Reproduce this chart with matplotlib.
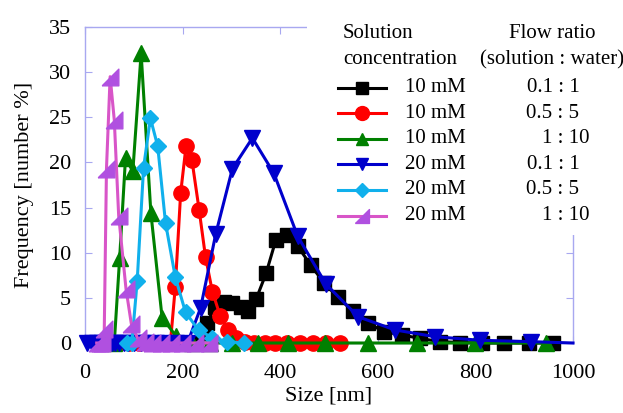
import matplotlib
matplotlib.use("Agg")
import matplotlib.pyplot as plt
from matplotlib.lines import Line2D
import numpy as np

plt.rcParams['font.family'] = ['Liberation Serif', 'DejaVu Serif']

# ---------------- data ----------------
black_x = [215, 228, 244, 250, 266, 284, 302, 320, 335, 351, 371, 391, 414, 436, 463, 489,
           518, 549, 580, 613, 649, 687, 728, 769, 814, 858, 910, 958]
black_y = [0, 0, 1.1, 2.2, 4.0, 4.5, 4.4, 4.0, 3.5, 4.9, 7.7, 11.4, 12.0, 10.7, 8.6, 6.7,
           5.1, 3.5, 2.2, 1.25, 0.9, 0.5, 0.15, 0.05, 0, 0, 0, 0]

red_x = [50, 70, 90, 110, 130, 150, 165, 175, 185, 196, 207, 219, 234, 247, 261, 277, 293,
         309, 327, 347, 368, 390, 414, 440, 467, 494, 523]
red_y = [0, 0, 0, 0, 0, 0, 0, 0, 6.2, 16.6, 21.8, 20.3, 14.7, 9.5, 5.7, 3.0, 1.4,
         0.5, 0.15, 0, 0, 0, 0, 0, 0, 0, 0]

green_x = [60, 71, 83, 98, 115, 135, 158, 186, 219, 257, 302, 355, 417, 491, 580, 680, 800, 944]
green_y = [0, 9.4, 20.5, 19.0, 32.1, 14.4, 2.8, 0.8, 0, 0, 0, 0, 0, 0, 0, 0, 0, 0]

blue_x = [5, 14, 24, 34, 44, 55, 62, 70, 79, 89, 100, 114, 128, 145, 164, 186, 210, 237,
          268, 302, 343, 387, 436, 494, 560, 635, 717, 810, 913, 1000]
blue_y = [0, 0, 0, 0, 0, 0, 0, 0, 0, 0, 0, 0, 0, 0, 0, 0, 0, 3.9,
          12.1, 19.3, 22.7, 18.8, 11.8, 6.5, 2.9, 1.45, 0.7, 0.3, 0.15, 0]

cyan_x = [86, 96, 107, 120, 134, 149, 165, 185, 206, 233, 261, 292, 326]
cyan_y = [0, 0, 6.9, 19.4, 24.9, 21.8, 13.3, 7.3, 3.4, 1.4, 0.6, 0.15, 0]

purple_x = [24, 30, 35, 39.5, 44, 51.5, 60, 69, 84, 95, 108, 122, 138, 156, 176, 199, 225, 254]
purple_y = [0, 0, 0, 1.5, 19.3, 29.5, 24.7, 14.1, 6.0, 2.1, 0.5, 0.1, 0, 0, 0, 0, 0, 0]

concentrations = ["10 mM", "10 mM", "10 mM", "20 mM", "20 mM", "20 mM"]
flow_ratios = ["0.1 : 1", "0.5 : 5", "1 : 10", "0.1 : 1", "0.5 : 5", "1 : 10"]

x_ticks = [0, 200, 400, 600, 800, 1000]
y_ticks = [0, 5, 10, 15, 20, 25, 30, 35]

# ---------------- styles ----------------
half_tri = [(-1, -1), (1, -1), (1, 1), (-1, -1)]
series = [
    (black_x, black_y, dict(color='#000000', mfc='#000000', mec='#000000', marker='s', ms=10)),
    (red_x, red_y, dict(color='#ff0000', mfc='#ff0000', mec='#ff0000', marker='o', ms=11)),
    (green_x, green_y, dict(color='#008000', mfc='#008000', mec='#008000', marker='^', ms=11)),
    (blue_x, blue_y, dict(color='#0000cc', mfc='#0000cc', mec='#0000cc', marker='v', ms=11)),
    (cyan_x, cyan_y, dict(color='#10b0ec', mfc='#10b0ec', mec='#10b0ec', marker='D', ms=8)),
    (purple_x, purple_y, dict(color='#d855c8', mfc='#b050e0', mec='#b050e0', marker=half_tri, ms=12)),
]

W, H = 623, 413
fig = plt.figure(figsize=(W / 100, H / 100), dpi=100)
ax = fig.add_axes([85 / W, 1 - 343 / H, (573 - 85) / W, (343 - 27) / H])

frame_col = '#a8a8f0'
for i, (xs, ys, st) in enumerate(series):
    kw = dict(st)
    if i == 3:
        kw['markevery'] = slice(0, len(xs) - 1)
    ax.plot(xs, ys, lw=2.2, clip_on=False, zorder=3 + i, **kw)

ax.set_xlim(0, 1000)
ax.set_ylim(0, 35)
ax.set_xticks(x_ticks)
ax.set_yticks(y_ticks)
for s in ax.spines.values():
    s.set_color(frame_col)
    s.set_linewidth(1.0)
ax.tick_params(direction='in', length=5, color=frame_col, labelsize=16,
               top=True, right=True, labelcolor='black')
ax.tick_params(axis='x', pad=15)
ax.tick_params(axis='y', pad=10)
ax.set_xlabel("Size [nm]", fontsize=16, labelpad=3)
ax.set_ylabel("Frequency [number %]", fontsize=16, labelpad=11)

# ---------------- legend box (pixel coordinates) ----------------
lx0, ly0, lx1, ly1 = 307, 0, 623, 235
lg = fig.add_axes([lx0 / W, 1 - ly1 / H, (lx1 - lx0) / W, (ly1 - ly0) / H], zorder=20)
lg.set_xlim(lx0, lx1)
lg.set_ylim(ly1, ly0)
lg.set_facecolor('white')
for s in lg.spines.values():
    s.set_visible(False)
lg.set_xticks([])
lg.set_yticks([])

fs = 15
lg.text(343, 34, "Solution", fontsize=fs, ha='left', va='center')
lg.text(343, 60, "concentration", fontsize=fs, ha='left', va='center')
lg.text(552, 34, "Flow ratio", fontsize=fs, ha='center', va='center')
lg.text(552, 60, "(solution : water)", fontsize=fs, ha='center', va='center')

row_y0, row_dy = 87.5, 25.6
leg_ms = [9, 10, 9, 9, 7, 10]
for i, (xs, ys, st) in enumerate(series):
    y = row_y0 + i * row_dy
    kw = dict(st)
    kw['ms'] = leg_ms[i]
    ln = Line2D([338, 362, 386], [y, y, y], lw=2.2, markevery=[1], **kw)
    lg.add_line(ln)
    lg.text(405, y, concentrations[i], fontsize=fs, ha='left', va='center')
    colon_x = 553 if flow_ratios[i] != "1 : 10" else 566
    lg.text(colon_x, y, flow_ratios[i], fontsize=fs, ha='center', va='center')

fig.savefig("out.png", dpi=100)
